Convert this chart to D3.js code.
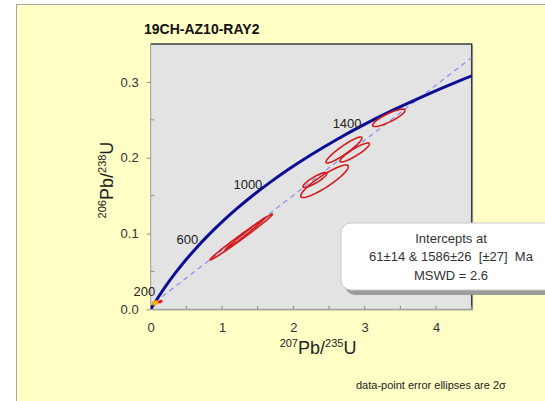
<!DOCTYPE html>
<html><head><meta charset="utf-8">
<script src="https://cdn.jsdelivr.net/npm/d3@7"></script>
<style>
html,body{margin:0;padding:0;background:#fff;}
text{font-family:Arial,"Liberation Sans",sans-serif;}
</style></head>
<body><svg id="c" width="545" height="401"></svg>
<script>
// ---- data ----
const title = "19CH-AZ10-RAY2";
const xTicks = [0, 1, 2, 3, 4];
const xMinor = [0.5, 1.5, 2.5, 3.5, 4.5];
const yTicks = [0, 0.1, 0.2, 0.3];
const yMinor = [0.05, 0.15, 0.25];
// concordia points (age Ma, 207Pb/235U, 206Pb/238U)
const concAge = [0,100,200,300,400,500,600,700,800,900,1000,1100,1200,1300,1400,1500,1600,1700,1800];
const concX = [0,0.1035,0.2177,0.3437,0.4828,0.6363,0.8056,0.9925,1.1987,1.4263,1.6774,1.9545,2.2603,2.5977,2.9701,3.3810,3.8344,4.3348,4.8869];
const concY = [0,0.01563,0.03151,0.04764,0.06402,0.08065,0.09754,0.11470,0.13213,0.14983,0.16780,0.18606,0.20460,0.22343,0.24256,0.26198,0.28171,0.30175,0.32210];
const ageLabels = [200, 600, 1000, 1400];
// data-point error ellipses
const ellCx  = [1.270, 1.322, 2.437, 2.303, 2.710, 2.860, 3.338];
const ellCy  = [0.0954, 0.0993, 0.1689, 0.1706, 0.2102, 0.2069, 0.2526];
const ellSx  = [0.439, 0.280, 0.334, 0.168, 0.252, 0.207, 0.227];
const ellSy  = [0.0303, 0.0211, 0.0215, 0.0099, 0.01715, 0.01253, 0.0115];
const ellRho = [0.993, 0.996, 0.90, 0.88, 0.925, 0.90, 0.853];
// intercepts
const lowerInt = [0.0619, 0.00951];
const upperInt = [3.7682, 0.27893];
const interceptLines = ["Intercepts at", "61\u00B114 & 1586\u00B126  [\u00B127]  Ma", "MSWD = 2.6"];
const footnote = "data-point error ellipses are 2\u03C3";

// ---- layout ----
const svg = d3.select("#c");
const L = 150.7, R = 471.7, T = 44, B = 309.3;
const x = d3.scaleLinear().domain([0, 4.5]).range([L, R]);
const y = d3.scaleLinear().domain([0, 0.35]).range([B, T]);

// panel background
svg.append("rect").attr("x", 16.5).attr("y", 4.5).attr("width", 540).attr("height", 410)
  .attr("fill", "#ffffc6").attr("stroke", "#a8a8a0").attr("stroke-width", 1);

// title
svg.append("text").attr("x", 144).attr("y", 34).attr("font-size", 14).attr("font-weight", "bold")
  .attr("fill", "#111").text(title);

// plot area
svg.append("rect").attr("x", L + 1.5).attr("y", T + 1.5).attr("width", R - L).attr("height", B - T)
  .attr("fill", "#9a9a9a").attr("opacity", 0.5);
svg.append("rect").attr("x", L).attr("y", T).attr("width", R - L).attr("height", B - T)
  .attr("fill", "#e3e3e3");
svg.append("path").attr("d", `M${L},${T}H${R}V${B}`).attr("fill", "none")
  .attr("stroke", "#3c3c3c").attr("stroke-width", 1.5);
svg.append("path").attr("d", `M${L},${T}V${B}H${R}`).attr("fill", "none")
  .attr("stroke", "#9a9a9a").attr("stroke-width", 1);

svg.append("defs").append("clipPath").attr("id", "clip")
  .append("rect").attr("x", L).attr("y", T).attr("width", R - L).attr("height", B - T);

// axes
const gx = svg.append("g").attr("transform", `translate(0,${B})`)
  .call(d3.axisBottom(x).tickValues(xTicks).tickFormat(d3.format("d")).tickSize(0).tickPadding(13));
gx.select(".domain").remove();
gx.selectAll("text").attr("font-size", 13).attr("fill", "#333").attr("font-family", "Arial, Liberation Sans, sans-serif");
svg.append("g").selectAll("line").data(xTicks.concat(xMinor)).join("line")
  .attr("x1", d => x(d)).attr("x2", d => x(d)).attr("y1", B).attr("y2", B - 3.5)
  .attr("stroke", "#8a8a8a").attr("stroke-width", 1);

const gy = svg.append("g").attr("transform", `translate(${L},0)`)
  .call(d3.axisLeft(y).tickValues(yTicks).tickFormat(d3.format(".1f")).tickSize(4).tickPadding(8));
gy.select(".domain").remove();
gy.selectAll("line").attr("stroke", "#8a8a8a");
gy.selectAll("text").attr("font-size", 13).attr("fill", "#333").attr("font-family", "Arial, Liberation Sans, sans-serif");
svg.append("g").selectAll("line").data(yMinor).join("line")
  .attr("x1", L).attr("x2", L + 3.5).attr("y1", d => y(d)).attr("y2", d => y(d))
  .attr("stroke", "#8a8a8a").attr("stroke-width", 1);

// axis titles
const yl = svg.append("text").attr("transform", "translate(113,180) rotate(-90)")
  .attr("text-anchor", "middle").attr("fill", "#222");
yl.append("tspan").attr("font-size", 11).attr("dy", -7).text("206");
yl.append("tspan").attr("font-size", 18).attr("dy", 7).text("Pb/");
yl.append("tspan").attr("font-size", 11).attr("dy", -7).text("238");
yl.append("tspan").attr("font-size", 18).attr("dy", 7).text("U");

const xl = svg.append("text").attr("transform", "translate(318,354)")
  .attr("text-anchor", "middle").attr("fill", "#222");
xl.append("tspan").attr("font-size", 11).attr("dy", -7).text("207");
xl.append("tspan").attr("font-size", 18).attr("dy", 7).text("Pb/");
xl.append("tspan").attr("font-size", 11).attr("dy", -7).text("235");
xl.append("tspan").attr("font-size", 18).attr("dy", 7).text("U");

const plot = svg.append("g").attr("clip-path", "url(#clip)");

// discordia (dashed)
const slope = (upperInt[1] - lowerInt[1]) / (upperInt[0] - lowerInt[0]);
const xEnd = 4.5;
plot.append("line")
  .attr("x1", x(lowerInt[0])).attr("y1", y(lowerInt[1]))
  .attr("x2", x(xEnd)).attr("y2", y(lowerInt[1] + slope * (xEnd - lowerInt[0])))
  .attr("stroke", "#8c8cf0").attr("stroke-width", 1.2).attr("stroke-dasharray", "5,4");

// concordia
const concPts = concAge.map((a, i) => [concX[i], concY[i]]);
plot.append("path").datum(concPts)
  .attr("d", d3.line().x(d => x(d[0])).y(d => y(d[1])).curve(d3.curveCatmullRom))
  .attr("fill", "none").attr("stroke", "#0c0c96").attr("stroke-width", 3);

// ellipse generator in data space
function ellPts(cx, cy, sx, sy, rho) {
  const pts = [];
  const k = Math.sqrt(1 - rho * rho);
  for (let i = 0; i <= 90; i++) {
    const t = i / 90 * 2 * Math.PI;
    pts.push([cx + sx * Math.cos(t), cy + sy * (rho * Math.cos(t) + k * Math.sin(t))]);
  }
  return pts;
}
const lineGen = d3.line().x(d => x(d[0])).y(d => y(d[1]));

// intercept error markers
plot.append("path").datum(ellPts(lowerInt[0], 0.0085, 0.045, 0.0032, 0.3))
  .attr("d", lineGen).attr("fill", "#f5b400").attr("stroke", "#f0a000").attr("stroke-width", 0.8);
plot.append("path").datum(ellPts(0.135, 0.0102, 0.028, 0.0018, 0.3))
  .attr("d", lineGen).attr("fill", "#ee1010").attr("stroke", "#ee1010").attr("stroke-width", 0.8);

// data ellipses
plot.append("g").selectAll("path").data(ellCx.map((c, i) => i)).join("path")
  .attr("d", i => lineGen(ellPts(ellCx[i], ellCy[i], ellSx[i], ellSy[i], ellRho[i])))
  .attr("fill", "none").attr("stroke", "#d21c1c").attr("stroke-width", 1.6);

// age labels
const nudge = [[-11, 11], [-10, 9], [-8, 6.5], [-1, 3]];
svg.append("g").selectAll("text").data(ageLabels).join("text")
  .attr("x", (d, i) => x(concX[concAge.indexOf(d)]) + nudge[i][0])
  .attr("y", (d, i) => y(concY[concAge.indexOf(d)]) + nudge[i][1])
  .attr("text-anchor", "end").attr("font-size", 13).attr("fill", "#222").text(d => d);

// intercept box
const bx = 341, by = 223, bw = 222, bh = 67;
svg.append("rect").attr("x", bx + 4).attr("y", by + 5).attr("width", bw).attr("height", bh)
  .attr("rx", 10).attr("fill", "#9c9c9c");
svg.append("rect").attr("x", bx).attr("y", by).attr("width", bw).attr("height", bh)
  .attr("rx", 10).attr("fill", "#ffffff").attr("stroke", "#c8c8c8").attr("stroke-width", 1);
svg.append("g").selectAll("text").data(interceptLines).join("text")
  .attr("x", 451).attr("y", (d, i) => 243 + i * 18.3)
  .attr("text-anchor", "middle").attr("font-size", 13).attr("fill", "#333")
  .style("white-space", "pre").text(d => d);

// footnote
svg.append("text").attr("x", 356).attr("y", 389).attr("font-size", 11).attr("fill", "#222")
  .text(footnote);
</script></body></html>
